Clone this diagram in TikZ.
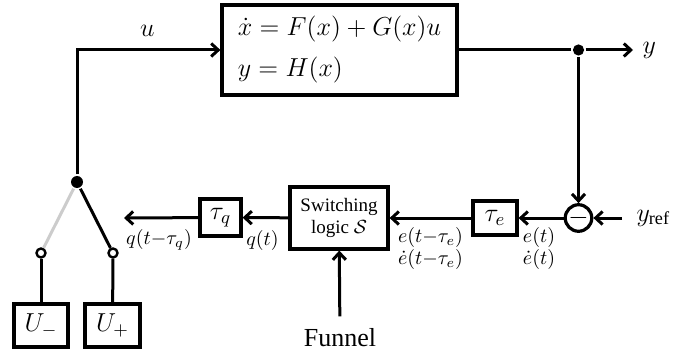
\RequirePackage{fix-cm}
\documentclass[tikz,border=0pt]{standalone}
\usepackage{amsmath, amssymb}
\usepackage[no-math]{fontspec}
\setmainfont{Liberation Serif}
\usepackage{tikz}
\usetikzlibrary{arrows.meta}
\tikzstyle{block} = [draw, fill=white, rectangle, line width=1.6pt,
    inner sep=0pt]
\tikzstyle{sumcirc} = [draw, circle, line width=1.6pt, minimum size=12.6pt, inner sep=0pt]
\tikzstyle{output} = [coordinate]
\tikzstyle{junc} = [circle, fill=black, minimum size=5.6pt, inner sep=0pt]
\tikzstyle{terminal} = [circle, draw, fill=white, line width=1.2pt, minimum size=4.5pt, inner sep=0pt]
\tikzstyle{lbl} = [font=\fontsize{10}{9.8}\selectfont, align=center, inner sep=0pt]

\begin{document}
\begin{tikzpicture}[auto, >={Straight Barb[length=3.5pt,width=6.5pt]}, x=0.5pt, y=-0.5pt,
    line width=1.5pt, font=\fontsize{13}{20.5}\selectfont]
    \useasboundingbox (0,0) rectangle (700,352);
    % The plant, the loop blocks and the delays
    \node [block, minimum width=117.5pt, minimum height=45pt, align=left] (system) at (339.5,50)
        {$\dot{x} = F(x) + G(x)u$\\ $y = H(x)$};
    \node [junc] (split) at (578.5,50) {};
    \node [output] (yout) at (633,50) {};
    \node [sumcirc] (sum) at (578.5,218) {$-$};
    \node [anchor=west, inner xsep=6.5pt, inner ysep=0pt] (yref) at (622,218) {$y_{\text{ref}}$};
    \node [block, minimum width=22pt, minimum height=17pt] (delaye) at (495,218) {$\tau_e$};
    \node [block, minimum width=49pt, minimum height=31pt, align=center,
        font=\fontsize{9.5}{10.7}\selectfont] (logic) at (339,218) {Switching\\logic $\mathcal{S}$};
    \node [block, minimum width=20.5pt, minimum height=18.5pt] (delayq) at (220.5,217.5) {$\tau_q$};
    \node [output] (qout) at (124,218) {};
    \node [inner sep=5.5pt] (funnel) at (340,338) {Funnel};

    % The switch and the two input levels
    \node [junc, minimum size=6pt] (switch) at (77,182) {};
    \node [terminal] (tminus) at (41,253) {};
    \node [terminal] (tplus) at (113,253) {};
    \node [block, minimum width=27pt, minimum height=21.5pt] (uminus) at (41,325.5) {$U_-$};
    \node [block, minimum width=27.5pt, minimum height=21.5pt] (uplus) at (112.5,325.5) {$U_+$};

    % Signal labels
    \node [lbl] (elbl) at (539,248) {$e(t)$\\ $\dot{e}(t)$};
    \node [lbl] (edlbl) at (430.5,248) {$e(t{-}\tau_e)$\\ $\dot{e}(t{-}\tau_e)$};
    \node [lbl] (qlbl) at (262.5,240) {$q(t)$};
    \node [lbl] (qdlbl) at (159,240) {$q(t{-}\tau_q)$};

    % Connect the blocks
    \draw [->] (switch) |- node[pos=0.745, above, inner sep=6pt] {$u$} (system.west);
    \draw (system.east) -- (split);
    \draw [->] (split) -- (yout) node[right, inner sep=4pt] {$y$};
    \draw [->] (split) -- (sum);
    \draw [->] (yref) -- (sum);
    \draw [->] (sum) -- (delaye);
    \draw [->] (delaye) -- (logic);
    \draw [->] (logic) -- (delayq);
    \draw [->] (delayq) -- (qout);
    \draw [->] (funnel) -- (logic);
    \draw [gray!40] (switch) -- (tminus);
    \draw (switch) -- (tplus);
    \draw (tminus) -- (uminus);
    \draw (tplus) -- (uplus);
\end{tikzpicture}
\end{document}
